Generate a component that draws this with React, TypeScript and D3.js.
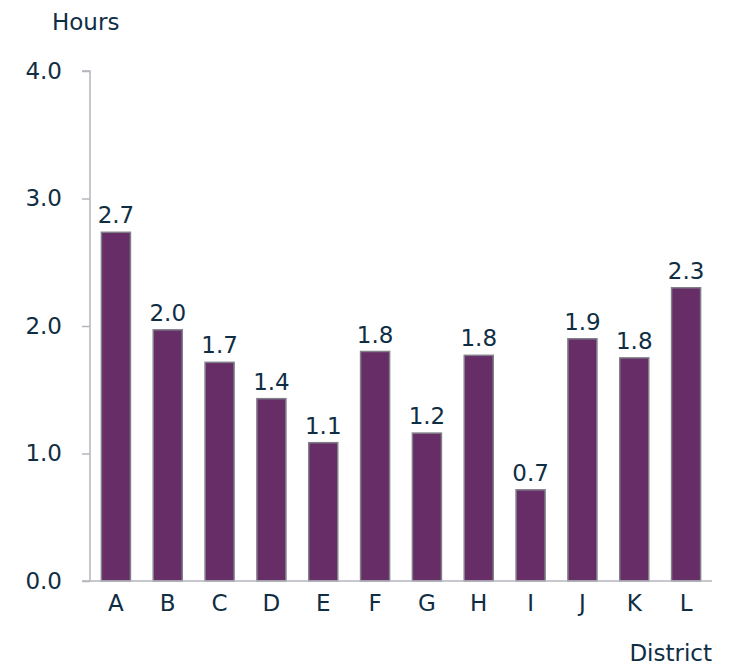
import React, { useEffect, useRef } from 'react';
import * as d3 from 'd3';

// Hours per district; labels are the rounded values shown above each bar.
const districts = ['A', 'B', 'C', 'D', 'E', 'F', 'G', 'H', 'I', 'J', 'K', 'L'];
const hours = [2.735, 1.97, 1.715, 1.43, 1.085, 1.8, 1.16, 1.77, 0.715, 1.9, 1.75, 2.3];
const yTicks = [0, 1, 2, 3, 4];

const W = 738;
const H = 666;
const LEFT = 90;
const RIGHT = 712;
const TOP = 71;
const BOTTOM = 581;

const TEXT = '#0f2e44';
const AXIS = '#b4b4bc';
const FONT = "'DejaVu Sans', sans-serif";
const FS = '23px';

export default function App() {
  const ref = useRef<SVGSVGElement>(null);

  useEffect(() => {
    const svg = d3.select(ref.current);
    svg.selectAll('*').remove();
    svg.append('rect').attr('width', W).attr('height', H).attr('fill', 'white');

    const x = d3.scaleBand().domain(districts).range([LEFT, RIGHT]).paddingInner(0.44).paddingOuter(0.22);
    const y = d3.scaleLinear().domain([0, 4]).range([BOTTOM, TOP]);

    const data = districts.map((d, i) => ({ name: d, value: hours[i] }));

    // bars
    svg
      .append('g')
      .selectAll('rect')
      .data(data)
      .enter()
      .append('rect')
      .attr('x', (d) => x(d.name)!)
      .attr('y', (d) => y(d.value))
      .attr('width', x.bandwidth())
      .attr('height', (d) => BOTTOM - y(d.value))
      .attr('fill', '#662d66')
      .attr('stroke', '#80808a')
      .attr('stroke-width', 1.5);

    // value labels
    svg
      .append('g')
      .selectAll('text')
      .data(data)
      .enter()
      .append('text')
      .attr('x', (d) => x(d.name)! + x.bandwidth() / 2)
      .attr('y', (d) => y(d.value) - 9)
      .attr('text-anchor', 'middle')
      .attr('font-family', FONT)
      .attr('font-size', FS)
      .attr('fill', TEXT)
      .text((d) => d.value.toFixed(1));

    // y axis
    const yAxis = svg
      .append('g')
      .attr('transform', `translate(${LEFT},0)`)
      .call(d3.axisLeft(y).tickValues(yTicks).tickSize(8).tickPadding(20).tickFormat((d) => (d as number).toFixed(1)));
    yAxis.select('.domain').attr('stroke', AXIS).attr('stroke-width', 1.5).attr('d', `M-8,${TOP}H0V${BOTTOM}`);
    yAxis.selectAll('.tick line').attr('stroke', AXIS).attr('stroke-width', 1.5);
    yAxis.selectAll('.tick text').attr('font-family', FONT).attr('font-size', FS).attr('fill', TEXT);

    // x axis
    const xAxis = svg
      .append('g')
      .attr('transform', `translate(0,${BOTTOM})`)
      .call(d3.axisBottom(x).tickSize(0).tickPadding(14));
    xAxis.select('.domain').attr('stroke', AXIS).attr('stroke-width', 1.5).attr('d', `M${LEFT - 8},0H${RIGHT}`);
    xAxis.selectAll('.tick text').attr('font-family', FONT).attr('font-size', FS).attr('fill', TEXT);

    svg
      .append('text')
      .attr('x', 52)
      .attr('y', 30)
      .attr('font-family', FONT)
      .attr('font-size', FS)
      .attr('fill', TEXT)
      .text('Hours');

    svg
      .append('text')
      .attr('x', RIGHT)
      .attr('y', 661)
      .attr('text-anchor', 'end')
      .attr('font-family', FONT)
      .attr('font-size', FS)
      .attr('fill', TEXT)
      .text('District');
  }, []);

  return <svg ref={ref} width={W} height={H} style={{ position: 'absolute', left: 0, top: 0 }} />;
}
